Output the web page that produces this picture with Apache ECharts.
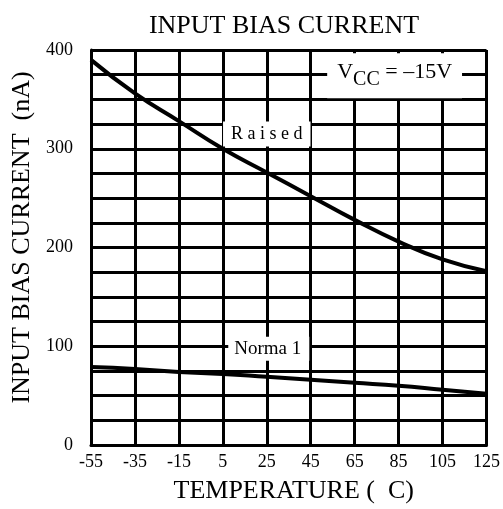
<!DOCTYPE html>
<html>
<head>
<meta charset="utf-8">
<script src="https://cdn.jsdelivr.net/npm/echarts@6/dist/echarts.min.js"></script>
<style>
  html, body { margin: 0; padding: 0; background: #fff; }
  #chart { width: 503px; height: 509px; }
</style>
</head>
<body>
<div id="chart"></div>
<script>
// temperature categories (C)
const temps = ['-55', '-35', '-15', '5', '25', '45', '65', '85', '105', '125']
// input bias current (nA)
const raised = [390, 356, 328, 300, 276, 252, 228, 206, 188, 176]
const normal = [79, 77, 74, 72, 69, 66, 63, 60, 56, 52]

const serif = 'Liberation Serif'
const chart = echarts.init(document.getElementById('chart'))

// white-backed text callout on the grid
const callout = (coord, text, extra) => ({
  coord: coord,
  symbol: 'rect',
  symbolSize: 0,
  label: Object.assign({
    show: true,
    position: 'inside',
    formatter: text,
    color: '#000',
    fontFamily: serif,
    fontSize: 18,
    backgroundColor: '#fff'
  }, extra)
})

chart.setOption({
  animation: false,
  title: {
    text: 'INPUT BIAS CURRENT',
    left: 279, top: 8, textAlign: 'center',
    textStyle: { fontFamily: serif, fontSize: 26, fontWeight: 'normal', color: '#000' }
  },
  grid: { left: 91, right: 15, top: 50, bottom: 61 },
  xAxis: {
    type: 'category',
    data: temps,
    boundaryGap: false,
    name: 'TEMPERATURE (  C)',
    nameLocation: 'middle',
    nameGap: 33,
    nameTextStyle: { fontFamily: serif, fontSize: 26, color: '#000', padding: [0, 0, 0, 10] },
    axisLine: { lineStyle: { color: '#000', width: 3 } },
    axisTick: { show: false },
    axisLabel: { fontFamily: serif, fontSize: 18, color: '#000', margin: 8 },
    splitLine: { show: true, lineStyle: { color: '#000', width: 3 } }
  },
  yAxis: {
    type: 'value',
    min: 0, max: 400, interval: 25,
    name: 'INPUT BIAS CURRENT  (nA)',
    nameLocation: 'middle',
    nameGap: 51,
    nameTextStyle: { fontFamily: serif, fontSize: 26, color: '#000', padding: [0, 0, 0, 20] },
    axisLine: { show: true, lineStyle: { color: '#000', width: 3 } },
    axisTick: { show: false },
    axisLabel: {
      fontFamily: serif, fontSize: 18, color: '#000', margin: 18,
      formatter: v => (v % 100 === 0 ? String(v) : '')
    },
    splitLine: { show: true, lineStyle: { color: '#000', width: 3 } }
  },
  series: [
    {
      name: 'Raised',
      type: 'line',
      data: raised,
      smooth: true,
      symbol: 'none',
      lineStyle: { color: '#000', width: 4 },
      z: 3,
      markPoint: {
        data: [
          callout(['25', 315], 'R a i s e d', { padding: [4, 8, 3, 8], fontSize: 18 }),
          callout(['85', 374], '{v|V}{s|CC}{v| = –15V}', {
            padding: [8, 10, 8, 10],
            rich: {
              v: { fontFamily: serif, fontSize: 22, color: '#000', verticalAlign: 'top' },
              s: { fontFamily: serif, fontSize: 20, color: '#000', padding: [9, 0, 0, 0] }
            },
            offset: [-4, 0]
          })
        ]
      }
    },
    {
      name: 'Normal',
      type: 'line',
      data: normal,
      smooth: true,
      symbol: 'none',
      lineStyle: { color: '#000', width: 4 },
      z: 3,
      markPoint: {
        data: [
          callout(['25', 97.5], 'Norma 1', { padding: [3, 8, 2, 6], fontSize: 19, offset: [2, 0] })
        ]
      }
    }
  ]
})
</script>
</body>
</html>
